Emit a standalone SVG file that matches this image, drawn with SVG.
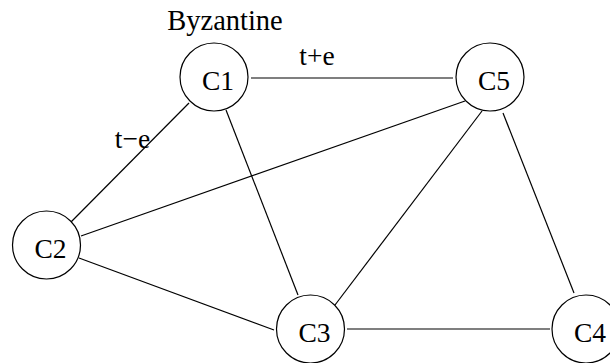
<svg xmlns="http://www.w3.org/2000/svg" width="610" height="363" viewBox="0 0 610 363">
<style>
.n{fill:#fff;stroke:#000;stroke-width:1.2}
.e{stroke:#000;stroke-width:1.2;fill:none}
text{font-family:"Liberation Serif","Times New Roman",serif;font-size:27.5px;fill:#000}
.c{text-anchor:middle}
.t{font-size:28.5px}
</style>
<rect width="610" height="363" fill="#fff"/>
<g id="connectors">
<line class="e" x1="251" y1="78" x2="453" y2="78"/>
<line class="e" x1="189" y1="103" x2="71" y2="222"/>
<line class="e" x1="226" y1="110" x2="298" y2="295"/>
<line class="e" x1="81" y1="236" x2="465" y2="101"/>
<line class="e" x1="79" y1="258" x2="274" y2="330"/>
<line class="e" x1="482" y1="111" x2="335" y2="305"/>
<line class="e" x1="503" y1="113" x2="574" y2="293"/>
<line class="e" x1="347" y1="329" x2="550" y2="329"/>
</g>
<g id="labels">
<text class="c t" x="225" y="30">Byzantine</text>
<text class="c" x="317" y="65">t+e</text>
<text class="c" x="132.5" y="148">t−e</text>
</g>
<g id="C1"><circle class="n" cx="214" cy="77" r="34"/><text class="c" x="218" y="90">C1</text></g>
<g id="C5"><circle class="n" cx="490" cy="77" r="34"/><text class="c" x="494" y="90">C5</text></g>
<g id="C2"><circle class="n" cx="46.5" cy="245" r="34"/><text class="c" x="50.5" y="258">C2</text></g>
<g id="C3"><circle class="n" cx="310.5" cy="329" r="34"/><text class="c" x="314.5" y="342">C3</text></g>
<g id="C4"><circle class="n" cx="586" cy="329" r="34"/><text class="c" x="590" y="342">C4</text></g>
</svg>
